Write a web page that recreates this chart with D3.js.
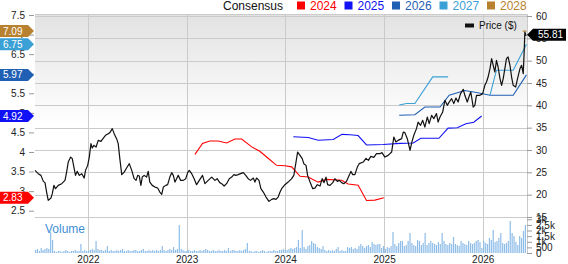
<!DOCTYPE html>
<meta charset="utf-8">
<style>
body { margin: 0; background: #fff; }
svg { display: block; font-family: "Liberation Sans", Arial, sans-serif; }
.axis text { font-size: 10px; fill: #222; }
.axis line { stroke: #999; }
.axis .domain { display: none; }
</style>
<svg width="568" height="264"></svg>
<script src="https://d3js.org/d3.v7.min.js"></script>
<script>

// ---- data ----
var priceDates = ["2021-06-19","2021-07-01","2021-07-11","2021-07-20","2021-07-26","2021-08-01","2021-08-07","2021-08-17","2021-08-22","2021-08-28","2021-09-03","2021-09-13","2021-09-26","2021-10-08","2021-10-14","2021-10-20","2021-10-29","2021-11-04","2021-11-10","2021-11-16","2021-11-22","2021-11-30","2021-12-09","2021-12-18","2021-12-23","2021-12-31",
  "2022-01-06","2022-01-12","2022-01-17","2022-01-23","2022-01-31","2022-02-08","2022-02-18","2022-02-27","2022-03-07","2022-03-17","2022-03-23","2022-04-01","2022-04-08","2022-04-17","2022-04-23","2022-04-29","2022-05-06","2022-05-15","2022-05-24","2022-06-03","2022-06-12","2022-06-21","2022-06-28","2022-07-04","2022-07-10","2022-07-16","2022-07-21","2022-07-28","2022-08-06","2022-08-12","2022-08-18","2022-08-27","2022-09-06","2022-09-16","2022-09-24","2022-10-01","2022-10-07","2022-10-16","2022-10-23","2022-10-31","2022-11-07","2022-11-13","2022-11-19","2022-11-25","2022-12-01","2022-12-10","2022-12-20","2022-12-29",
  "2023-01-05","2023-01-11","2023-01-20","2023-01-29","2023-02-07","2023-02-17","2023-03-01","2023-03-10","2023-03-22","2023-04-04","2023-04-16","2023-04-24","2023-05-04","2023-05-11","2023-05-20","2023-05-29","2023-06-08","2023-06-17","2023-06-25","2023-07-02","2023-07-11","2023-07-20","2023-07-30","2023-08-08","2023-08-17","2023-08-26","2023-09-05","2023-09-11","2023-09-17","2023-09-26","2023-10-03","2023-10-12","2023-10-22","2023-11-02","2023-11-12","2023-11-20","2023-11-28","2023-12-06","2023-12-13","2023-12-19","2023-12-31",
  "2024-01-12","2024-01-25","2024-02-02","2024-02-10","2024-02-16","2024-02-25","2024-03-04","2024-03-10","2024-03-18","2024-03-24","2024-04-02","2024-04-12","2024-04-20","2024-04-29","2024-05-09","2024-05-17","2024-05-24","2024-05-31","2024-06-06","2024-06-15","2024-06-25","2024-07-03","2024-07-12","2024-07-19","2024-07-28","2024-08-05","2024-08-15","2024-08-25","2024-08-31","2024-09-07","2024-09-15","2024-09-24","2024-10-01","2024-10-16","2024-10-26","2024-11-04","2024-11-13","2024-11-24","2024-12-04","2024-12-17","2024-12-24",
  "2025-01-04","2025-01-16","2025-01-29","2025-02-06","2025-02-14","2025-02-22","2025-03-07","2025-03-13","2025-03-19","2025-03-28","2025-04-07","2025-04-13","2025-04-21","2025-05-01","2025-05-07","2025-05-16","2025-05-24","2025-06-01","2025-06-10","2025-06-17","2025-06-26","2025-07-04","2025-07-14","2025-07-20","2025-07-27","2025-08-06","2025-08-14","2025-08-23","2025-08-30","2025-09-08","2025-09-16","2025-09-24","2025-10-02","2025-10-11","2025-10-21","2025-10-27","2025-11-05","2025-11-11","2025-11-18","2025-11-27","2025-12-03","2025-12-09","2025-12-22",
  "2026-01-01","2026-01-09","2026-01-15","2026-01-21","2026-01-28","2026-02-03","2026-02-09","2026-02-15","2026-02-21","2026-02-27","2026-03-06","2026-03-12","2026-03-18","2026-03-24","2026-03-30","2026-04-05","2026-04-12","2026-04-18","2026-04-24","2026-05-03","2026-05-10","2026-05-19","2026-05-25","2026-05-31","2026-06-04","2026-06-06","2026-06-10","2026-06-12"];

var priceValues = [25.44,24.70,24.32,22.98,22.69,20.58,18.72,19.24,20.22,22.08,21.34,22.08,22.46,23.20,25.06,27.30,28.42,28.06,26.18,24.32,25.22,24.32,24.70,23.72,25.44,26.56,
  28.42,31.42,30.44,31.04,30.66,32.16,31.94,32.68,33.28,33.66,33.89,34.78,33.66,32.54,31.42,28.06,24.48,25.06,25.96,26.94,25.44,23.58,23.20,24.32,24.17,22.08,23.94,24.32,23.94,25.22,22.82,22.08,21.70,21.48,20.58,20.07,21.70,22.08,22.24,23.94,24.93,24.32,22.82,23.58,24.32,23.20,23.20,23.58,
  24.93,25.44,24.70,23.58,22.24,23.20,24.32,22.46,23.20,23.94,23.20,23.58,22.69,22.46,21.93,22.46,23.58,23.94,24.48,24.32,24.48,24.70,24.93,24.32,23.58,23.20,23.72,22.82,23.72,23.20,21.34,20.58,19.46,18.50,18.95,19.10,18.95,19.46,20.58,21.34,22.24,
  22.82,23.58,24.32,27.30,29.54,28.80,28.06,26.94,26.56,24.32,22.82,21.34,21.48,22.24,21.93,23.58,22.69,23.94,22.24,22.08,22.69,23.58,22.98,23.20,22.69,22.46,22.98,24.32,25.22,24.48,24.48,26.18,26.94,27.30,28.13,27.68,28.58,28.35,29.18,29.18,29.41,
  28.42,28.80,29.54,32.90,31.78,32.16,32.54,34.02,33.89,32.54,29.92,31.56,33.28,34.78,36.26,35.52,36.64,35.14,37.38,35.90,37.76,37.02,38.14,36.26,37.38,38.50,41.12,40.00,40.74,41.50,40.38,41.64,40.74,42.62,43.58,42.24,40.74,41.86,42.98,39.62,40.00,42.24,42.24,
  42.62,44.48,45.22,46.34,48.22,50.46,48.96,47.46,50.08,48.58,45.98,44.48,45.98,48.22,50.46,50.82,48.96,46.34,44.48,44.10,45.98,48.22,48.96,47.10,52.70,56.42,55.68,55.81];

var eps2024Dates = ["2023-02-01","2023-03-01","2023-03-28","2023-04-28","2023-05-29","2023-06-29","2023-07-24","2023-08-30","2023-09-29","2023-10-30","2023-11-30","2023-12-31","2024-01-25","2024-02-25","2024-03-26","2024-05-02","2024-06-02","2024-07-28","2024-08-21","2024-09-27","2024-10-28","2024-11-28","2024-12-31"];
var eps2024 = [3.94,4.22,4.28,4.28,4.23,4.33,4.33,4.13,4.02,3.84,3.66,3.65,3.62,3.38,3.36,3.23,3.30,3.28,3.18,3.15,2.76,2.77,2.83];

var eps2025Dates = ["2024-01-31","2024-03-26","2024-05-02","2024-06-27","2024-07-29","2024-08-28","2024-09-27","2024-10-28","2024-12-29","2025-03-01","2025-04-19","2025-05-17","2025-07-23","2025-08-26","2025-09-29","2025-10-31","2025-11-29","2025-12-28"];
var eps2025 = [4.39,4.37,4.30,4.32,4.45,4.44,4.42,4.18,4.19,4.22,4.23,4.35,4.35,4.61,4.62,4.72,4.76,4.92];

var eps2026Dates = ["2025-02-26","2025-04-25","2025-06-01","2025-07-27","2025-08-30","2025-10-27","2025-12-09","2026-01-28","2026-04-24","2026-06-12"];
var eps2026 = [4.94,4.95,5.15,5.15,5.45,5.57,5.52,5.45,5.45,5.97];

var eps2027Dates = ["2025-02-26","2025-03-25","2025-04-25","2025-06-30","2025-08-26","2025-08-27","2026-01-28","2026-02-21","2026-04-24","2026-06-12"];
var eps2027 = [5.20,5.24,5.24,5.92,5.92,null,5.45,6.09,6.09,6.75];

var eps2028Dates = ["2026-05-29","2026-06-12"];
var eps2028 = [7.09,7.09];

var volumeStart = "2021-06-21";   // one bar per week from here
var volumes = [270,360,180,450,270,360,450,360,1840,1160,
  180,90,180,180,90,180,270,180,90,180,180,270,180,180,800,180,270,180,180,270,360,270,1070,360,270,270,180,270,620,
  180,270,180,180,270,180,270,360,180,180,270,180,180,270,270,180,180,270,360,180,180,270,180,270,180,270,180,270,620,
  270,180,270,360,270,530,270,360,2490,
  360,270,180,180,270,180,180,270,180,180,270,180,270,360,270,180,180,270,180,180,270,180,180,270,180,450,180,270,270,180,180,270,180,270,360,890,
  180,180,90,180,180,90,180,270,180,90,180,180,180,270,180,180,270,270,360,270,270,360,450,360,450,
  530,1160,450,2050,530,360,620,710,1070,890,800,530,450,360,620,
  270,180,270,180,270,180,360,530,180,270,180,180,530,450,530,360,450,360,
  620,800,620,450,620,710,530,980,800,710,800,800,450,620,360,530,450,
  620,1870,800,620,890,1070,1070,620,710,1070,
  1780,890,710,620,1160,1070,710,890,1780,710,
  890,1070,890,800,710,980,800,1780,1070,800,
  710,890,800,1420,800,710,620,1070,890,800,
  710,1070,890,800,890,1070,1160,980,450,1070,
  890,800,1340,1160,2050,980,1070,1340,1780,890,
  800,890,1070,2850,1780,1510,980,710,1510,1340,1960,2490];

var epsTicks = [2.5,3,3.5,4,4.5,5,5.5,6,6.5,7,7.5];
var priceTicks = [15,20,25,30,35,40,45,50,55,60];
var volumeTicks = [0,500,1000,1500,2000,2500,3000];
var legendYears = ["2024","2025","2026","2027","2028"];
var legendColors = ["#ff0000","#1111f5","#1f5fb4","#3aa0d6","#b8812f"];

// ---- layout ----
var svg = d3.select("svg"),
    left = 35, right = 527, frameTop = 14,
    priceTop = 16, priceBottom = 217, volBottom = 253;

var parseDate = d3.timeParse("%Y-%m-%d");

var x = d3.scaleTime()
    .domain([parseDate("2021-06-19"), parseDate("2026-06-14")])
    .range([left, right]);

var yPrice = d3.scaleLinear().domain([15, 60]).range([priceBottom, priceTop]);
var yEps = d3.scaleLinear().domain([2.5, 7.5]).range([210.7, 15]);
var yVol = d3.scaleLinear().domain([0, 3200]).range([volBottom, priceBottom]);

// background gradient
var grad = svg.append("defs").append("linearGradient")
    .attr("id", "bg").attr("x1", 0).attr("y1", 0).attr("x2", 0).attr("y2", 1);
grad.append("stop").attr("offset", "0%").attr("stop-color", "#e2e2e2");
grad.append("stop").attr("offset", "55%").attr("stop-color", "#ffffff");

svg.append("rect")
    .attr("x", left).attr("y", frameTop)
    .attr("width", right - left).attr("height", priceBottom - frameTop)
    .attr("fill", "url(#bg)");

// grid
var grid = svg.append("g").attr("stroke", "#cacaca").attr("stroke-width", 1);

grid.selectAll(".hg")
  .data(priceTicks)
  .enter().append("line")
    .attr("x1", left).attr("x2", right)
    .attr("y1", function(d) { return Math.round(yPrice(d)) + 0.5; })
    .attr("y2", function(d) { return Math.round(yPrice(d)) + 0.5; });

grid.append("line")
    .attr("x1", left).attr("x2", right)
    .attr("y1", frameTop + 0.5).attr("y2", frameTop + 0.5);

grid.selectAll(".vg")
  .data(x.ticks(d3.timeYear))
  .enter().append("line")
    .attr("x1", function(d) { return Math.round(x(d)) + 0.5; })
    .attr("x2", function(d) { return Math.round(x(d)) + 0.5; })
    .attr("y1", frameTop).attr("y2", volBottom);

grid.append("line")
    .attr("x1", right + 0.5).attr("x2", right + 0.5)
    .attr("y1", frameTop).attr("y2", volBottom);

// volume bars
var volStart = parseDate(volumeStart);
svg.append("g")
  .selectAll("rect")
  .data(volumes)
  .enter().append("rect")
    .attr("x", function(d, i) { return x(d3.timeWeek.offset(volStart, i)) - 0.6; })
    .attr("y", function(d) { return yVol(d); })
    .attr("width", 1.2)
    .attr("height", function(d) { return volBottom - yVol(d); })
    .attr("fill", "#8fbde8");

svg.append("text")
    .attr("x", 45).attr("y", 233)
    .attr("fill", "#3f8fd6")
    .style("font-size", "12px")
    .text("Volume");

// consensus lines
var epsSeries = [
  {dates: eps2024Dates, values: eps2024, color: legendColors[0]},
  {dates: eps2025Dates, values: eps2025, color: legendColors[1]},
  {dates: eps2026Dates, values: eps2026, color: legendColors[2]},
  {dates: eps2027Dates, values: eps2027, color: legendColors[3]},
  {dates: eps2028Dates, values: eps2028, color: legendColors[4]}
];

var epsLine = d3.line()
    .defined(function(d) { return d[1] != null; })
    .x(function(d) { return x(d[0]); })
    .y(function(d) { return yEps(d[1]); });

epsSeries.forEach(function(s) {
  var pts = s.dates.map(function(d, i) { return [parseDate(d), s.values[i]]; });
  svg.append("path")
      .datum(pts)
      .attr("fill", "none")
      .attr("stroke", s.color)
      .attr("stroke-width", 1.1)
      .attr("d", epsLine);
});

// price line
var pricePts = priceDates.map(function(d, i) { return [parseDate(d), priceValues[i]]; });
svg.append("path")
    .datum(pricePts)
    .attr("fill", "none")
    .attr("stroke", "#111")
    .attr("stroke-width", 1.2)
    .attr("stroke-linejoin", "round")
    .attr("d", d3.line()
      .x(function(d) { return x(d[0]); })
      .y(function(d) { return yPrice(d[1]); }));

// axes
svg.append("g")
    .attr("class", "axis")
    .attr("transform", "translate(" + (left - 1) + ",0)")
    .call(d3.axisLeft(yEps).tickValues(epsTicks).tickSize(5).tickPadding(4)
      .tickFormat(function(d) { return d; }));

svg.append("g")
    .attr("class", "axis")
    .attr("transform", "translate(" + right + ",0)")
    .call(d3.axisRight(yPrice).tickValues(priceTicks).tickSize(5).tickPadding(4));

svg.append("g")
    .attr("class", "axis")
    .attr("transform", "translate(" + right + ",0)")
    .call(d3.axisRight(yVol).tickValues(volumeTicks).tickSize(5).tickPadding(4)
      .tickFormat(function(d) { return d < 1000 ? d : (d / 1000) + "k"; }));

svg.append("g")
    .attr("class", "axis")
    .attr("transform", "translate(0," + volBottom + ")")
    .call(d3.axisBottom(x).ticks(d3.timeYear).tickSize(0).tickPadding(3)
      .tickFormat(d3.timeFormat("%Y")));

// last-value flags on the left
epsSeries.forEach(function(s) {
  var v = s.values[s.values.length - 1],
      y = yEps(v);
  svg.append("path")
      .attr("d", "M0," + (y - 6) + "H28L34," + y + "L28," + (y + 6) + "H0Z")
      .attr("fill", s.color);
  svg.append("text")
      .attr("x", 3).attr("y", y + 3.6)
      .attr("fill", "#fff")
      .style("font-size", "10px")
      .text(d3.format(".2f")(v));
});

// last price flag on the right
var lastPrice = priceValues[priceValues.length - 1],
    py = yPrice(lastPrice);
svg.append("path")
    .attr("d", "M" + right + "," + py + "L" + (right + 6) + "," + (py - 6) + "H566V" + (py + 6) + "H" + (right + 6) + "Z")
    .attr("fill", "#000");
svg.append("text")
    .attr("x", right + 11).attr("y", py + 3.6)
    .attr("fill", "#fff")
    .style("font-size", "10px")
    .text(d3.format(".2f")(lastPrice));

// price legend inside the plot
svg.append("rect").attr("x", 465).attr("y", 23.5).attr("width", 9).attr("height", 4).attr("fill", "#111");
svg.append("text").attr("x", 479).attr("y", 29).style("font-size", "10px").attr("fill", "#111").text("Price ($)");

// top legend
svg.append("text").attr("x", 223).attr("y", 10).style("font-size", "12px").attr("fill", "#111").text("Consensus");

legendYears.forEach(function(yr, i) {
  var lx = 297 + i * 47.5;
  svg.append("rect")
      .attr("x", lx).attr("y", 1.5).attr("width", 8).attr("height", 8)
      .attr("fill", legendColors[i]);
  svg.append("text")
      .attr("x", lx + 13).attr("y", 10)
      .style("font-size", "12px")
      .attr("fill", legendColors[i])
      .text(yr);
});

</script>
